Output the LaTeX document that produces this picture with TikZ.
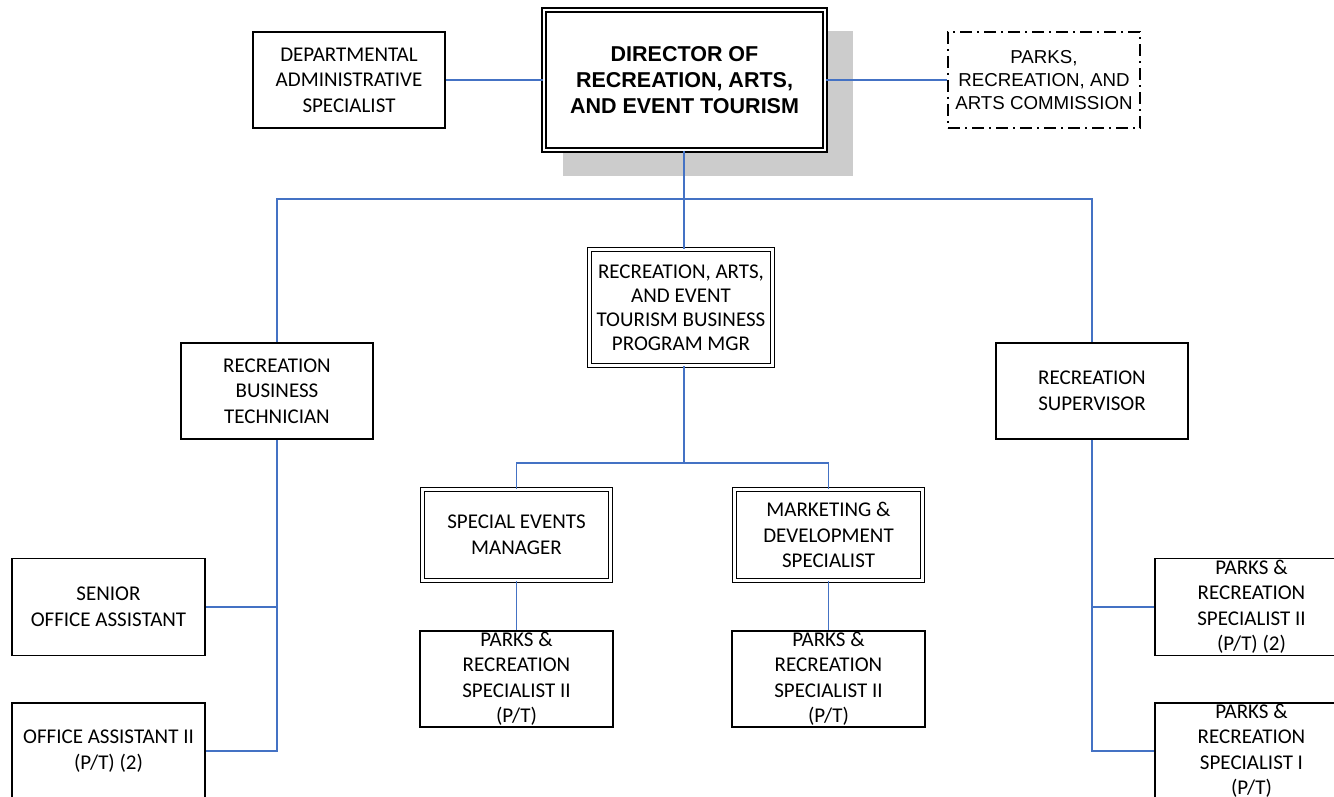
\documentclass[tikz,border=0pt]{standalone}
\usepackage{fontspec}
\setmainfont{Carlito}
\newfontfamily\arialf{Liberation Sans}
\definecolor{connblue}{HTML}{4472C4}
\definecolor{shadowgray}{HTML}{CCCCCC}
\tikzset{
  box/.style={draw, line width=1.6pt, fill=white, align=center, inner sep=0pt,
    font=\fontsize{21}{25.5}\selectfont, minimum width=192pt, minimum height=96pt},
  dbox/.style={box, double, double distance=2.6pt, line width=1.5pt},
  conn/.style={draw=connblue, line width=1.8pt},
}
\begin{document}
\begin{tikzpicture}[x=1pt,y=-1pt]
\useasboundingbox (0,0) rectangle (1334,797);
\clip (0,0) rectangle (1334,797);
\fill[white] (0,0) rectangle (1334,797);
% shadow
\fill[shadowgray] (563,31) rectangle (853,176);
% nodes
\node[dbox, minimum width=281pt, minimum height=140pt,
  font=\arialf\bfseries\fontsize{21.5}{26}\selectfont] (dir) at (684.5,80)
  {DIRECTOR OF\\RECREATION, ARTS,\\AND EVENT TOURISM};
\node[box] (dept) at (349,80) {DEPARTMENTAL\\ADMINISTRATIVE\\SPECIALIST};
\node[box, dash pattern=on 12pt off 5pt on 2pt off 5pt,
  font=\arialf\fontsize{18.7}{23}\selectfont] (comm) at (1044,80)
  {PARKS,\\RECREATION, AND\\ARTS COMMISSION};
\node[dbox, minimum width=183pt, minimum height=116pt,
  font=\fontsize{21}{24}\selectfont] (mgr) at (681,307.5)
  {RECREATION, ARTS,\\AND EVENT\\TOURISM BUSINESS\\PROGRAM MGR};
\node[box] (rbt) at (277,391) {RECREATION\\BUSINESS\\TECHNICIAN};
\node[box] (rs) at (1092,391) {RECREATION\\SUPERVISOR};
\node[dbox, minimum width=188pt, minimum height=91pt] (sem) at (516.5,535)
  {SPECIAL EVENTS\\MANAGER};
\node[dbox, minimum width=188pt, minimum height=91pt] (mds) at (828.5,535)
  {MARKETING \&\\DEVELOPMENT\\SPECIALIST};
\node[box, minimum width=193pt] (prs1) at (516.5,679)
  {PARKS \&\\RECREATION\\SPECIALIST II\\(P/T)};
\node[box, minimum width=193pt] (prs2) at (828.5,679)
  {PARKS \&\\RECREATION\\SPECIALIST II\\(P/T)};
\node[box, minimum width=193pt, minimum height=97pt] (soa) at (108.5,607)
  {SENIOR\\OFFICE ASSISTANT};
\node[box, minimum width=193pt] (oa2) at (108.5,751)
  {OFFICE ASSISTANT II\\(P/T) (2)};
\node[box, minimum width=193pt, minimum height=97pt] (prs2r) at (1251.5,607)
  {PARKS \&\\RECREATION\\SPECIALIST II\\(P/T) (2)};
\node[box, minimum width=193pt] (prs1r) at (1251.5,751)
  {PARKS \&\\RECREATION\\SPECIALIST I\\(P/T)};
% junctions
\coordinate (j1) at (684,199);
\coordinate (j2) at (684,463);
% connectors
\draw[conn] (dept.east) -- (dir.west);
\draw[conn] (dir.east) -- (comm.west);
\draw[conn] (dir.south -| j1) -- (j1);
\draw[conn] (rbt.north) |- (rs.north |- j1) -- (rs.north);
\draw[conn] (j1) -- (j1 |- mgr.north);
\draw[conn] (j1 |- mgr.south) -- (j2);
\draw[conn] (sem.north) |- (mds.north |- j2) -- (mds.north);
\draw[conn] (sem.south) -- (prs1.north);
\draw[conn] (mds.south) -- (prs2.north);
\draw[conn] (rbt.south) |- (oa2.east);
\draw[conn] (soa.east) -- (soa.east -| rbt.south);
\draw[conn] (rs.south) |- (prs1r.west);
\draw[conn] (prs2r.west) -- (prs2r.west -| rs.south);
\end{tikzpicture}
\end{document}
